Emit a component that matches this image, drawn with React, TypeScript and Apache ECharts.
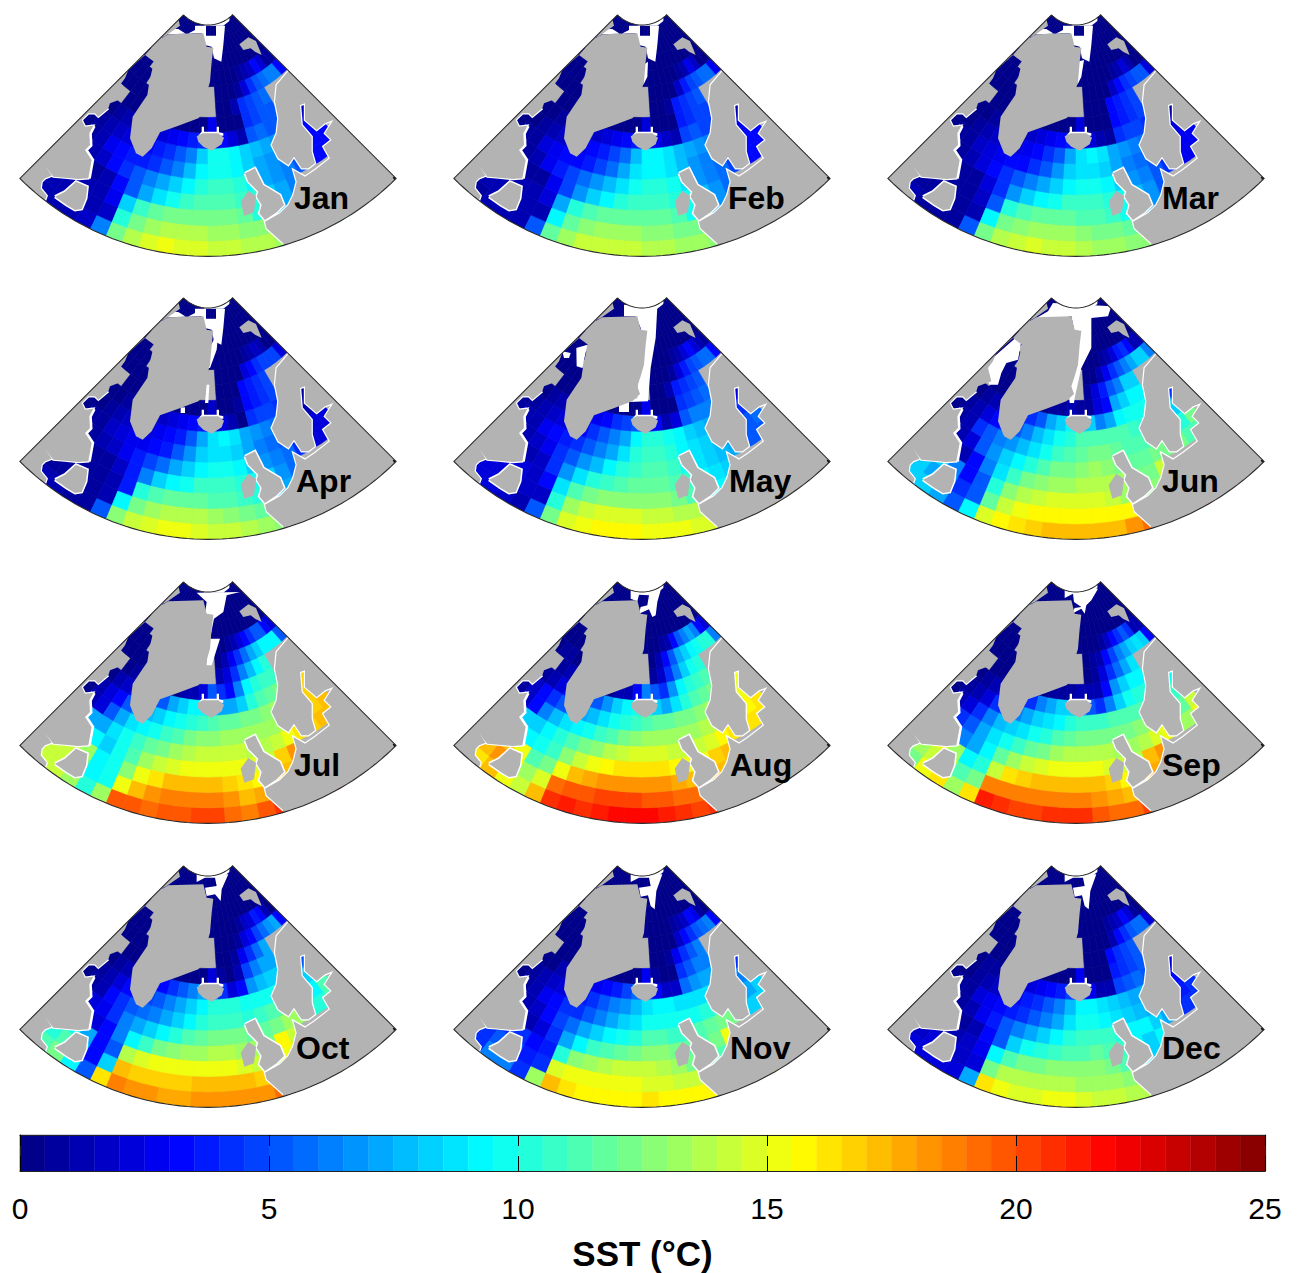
import React, { useEffect, useRef } from "react";
import * as echarts from "echarts";

const _ = null;
const MONTHS = ["Jan","Feb","Mar","Apr","May","Jun","Jul","Aug","Sep","Oct","Nov","Dec"];
const TICKS = [0,5,10,15,20,25];
const LEVELS = [0,.5,1,1.5,2,2.5,3,3.5,4,4.5,5,5.5,6,6.5,7,7.5,8,8.5,9,9.5,10,10.5,11,11.5,12,12.5,13,13.5,14,14.5,15,15.5,16,16.5,17,17.5,18,18.5,19,19.5,20,20.5,21,21.5,22,22.5,23,23.5,24,24.5];

// SST by ring (outermost first) and by angular sector (west to east). _ = inland.
const northRows = [
 [_,_,_,_,_,_,_,_,_,_,_,_,0,0,0,0,0,0,0,0,0,0,0,0],
 [0,0,0,0,0,0,0,0,0,0,0,0,0,0,0,0,0,0,0,0,0,0,0,0],
 [0,0,0,0,0,0,0,0,0,0,0,0,0,0,0,0,0,0,0,0,0,0,0,0],
];
const jan = [
 [_,1,1,1,1.5,6,12,13.5,14.5,15,14.5,14.5,14,14,13.5,13.5,13],
 [1,1,1,1,1,1.5,10,12,13,13.5,13.5,13.5,13,13,12.5,12.5,12],
 [1,1,1,1,1,2.5,8,10.5,11.5,12,12,12,12,12,11.5,10,8,7],
 [1,1,1,.5,1,3,5,7,8.5,9.5,10.5,11,11,11,10.5,10,8,7,6],
 [_,_,1,1.5,3,4,5,6,7,8,9,10,10.5,10.5,10,9,7,6.5,6,5,3,3,3],
 [0,.5,1,2.5,3,3.5,3.5,4,5,6,7.5,9,9.5,9.5,9,8,7,6.5,6,5,3,3,3],
 [0,.5,1,1.5,2,2,3,3.5,4,5,6,8,9.5,9.5,9,8,7.5,7,6.5,6,3,3,3],
 [_,0,.5,1,1,1,2,2,2.5,3,3.5,4,3,3,2,1,5,5.5,5,5,_,2,1.5],
 [_,_,0,0,0,0,0,0,0,0,0,0,2.5,0,0,0,4,4.5,5,5],
 [0,0,0,0,_,_,_,_,_,_,_,_,_,0,0,1,4,4.5,5,5.5],
 [0,0,0,_,_,_,_,_,_,_,_,_,_,0,0,0,.5,2,4,5,5.5,6,6,3],
 [0,0,_,_,_,_,_,_,_,_,_,_,0,0,0,0,0,.5,1,1.5,3,2,.5,.5],
];
const feb = [
 [_,.5,1,1,1,5,11.5,13,14,14,14,14,13.5,13.5,13,13,12.5],
 [1,1,1,1,1,1,9,11.5,12.5,13,13,13,12.5,12.5,12,12,11.5],
 [1,1,1,1,1,2,7,10,11,11.5,11.5,11.5,11.5,11.5,11,9.5,7.5,6.5],
 [.5,.5,.5,.5,.5,2.5,4.5,6.5,8,9,10,10.5,10.5,10.5,10,9.5,7.5,6.5,5.5],
 [_,_,.5,1,2.5,3.5,4.5,5.5,6.5,7.5,8.5,9.5,10,10,9.5,8.5,6.5,6,5.5,4.5,3,3,3],
 [0,.5,.5,2,2.5,3,3,3.5,4.5,5.5,7,8.5,9,9,8.5,7.5,6.5,6,5.5,4.5,3,3,3],
 [0,0,.5,1,1.5,2,2.5,3,3.5,4.5,5.5,7.5,9,9,8.5,7.5,7,6.5,6,5.5,2.5,2.5,2.5],
 [_,0,0,.5,1,1,1.5,1.5,2,2.5,3,3.5,3,2.5,1.5,1,4.5,5,4.5,4.5,_,1.5,1],
 [_,_,0,0,0,0,0,0,0,0,0,0,2,0,0,0,3.5,4,4.5,4.5],
 [0,0,0,0,_,_,_,_,_,_,_,_,_,0,0,.5,3.5,4,4.5,5],
 [0,0,0,_,_,_,_,_,_,_,_,_,_,0,0,0,0,1.5,3.5,4.5,5,5.5,5.5,2.5],
 [0,0,_,_,_,_,_,_,_,_,_,_,0,0,0,0,0,0,.5,1,2.5,1.5,0,0],
];
const mar = [
 [_,1,.5,.5,.5,5,12,13.5,14,14.5,14,14,13.5,13,13,12.5,12.5],
 [1,.5,.5,.5,.5,1,9,12,12.5,13,13,13,12.5,12,12,11.5,11],
 [.5,.5,.5,.5,.5,1.5,5,10,11,11.5,11.5,11.5,11,11,10.5,9.5,7.5,6.5],
 [.5,.5,.5,.5,.5,2,4,6.5,8,9,9.5,10.5,10.5,10.5,10,9.5,7.5,6.5,5],
 [_,_,.5,1,2,3,4,5,6,7,8,9,9.5,9.5,9,8,6.5,6,5,4,2.5,2.5,2.5],
 [0,.5,.5,1.5,2,2.5,3,3,4,5,6.5,8,8.5,8.5,8,7,6,5.5,5,4,2.5,2.5,2.5],
 [0,0,.5,1,1.5,1.5,2,2.5,3,4,5,7,8.5,9,8.5,7,6.5,6,5.5,5,2,2,2],
 [_,0,0,.5,.5,1,1,1.5,2,2.5,3,3.5,2.5,2,1,.5,4,4.5,4.5,4,_,1,.5],
 [_,_,0,0,0,0,0,0,0,0,0,0,2,0,0,0,3,3.5,4,4.5],
 [0,0,0,0,_,_,_,_,_,_,_,_,_,0,0,0,3,3.5,4,4.5],
 [0,0,0,_,_,_,_,_,_,_,_,_,_,0,0,0,0,1.5,3,4,4.5,5,5,2],
 [0,0,_,_,_,_,_,_,_,_,_,_,0,0,0,0,0,0,.5,1,2,1,0,0],
];
const apr = [
 [_,1,1,.5,.5,5,12.5,14,14.5,15,15,14.5,14,14,13.5,13,12.5],
 [.5,.5,.5,1,.5,1,9,12,13,13.5,13.5,13.5,13,12.5,12,11.5,11],
 [.5,.5,.5,.5,.5,1,3.5,10,11,11.5,11.5,11.5,11,11,10.5,10,8,7],
 [.5,.5,.5,.5,.5,1.5,3.5,6,8,9,9.5,10.5,10.5,10.5,10,9.5,8,6.5,5.5],
 [_,_,.5,1,1.5,2.5,3.5,4.5,5.5,7,8,9,9.5,9.5,9,8,6.5,6,5.5,4,2,2,2],
 [0,.5,.5,1.5,2,2.5,2.5,3,3.5,5,6.5,8,8.5,8.5,8,7,6,5.5,5,4,2,2,2],
 [0,0,.5,1,1.5,1.5,2,2.5,3,3.5,5,7,8.5,9,8.5,7,6.5,6,5.5,5,1.5,1,1],
 [_,0,0,.5,.5,1,1,1.5,2,2.5,3,3.5,2.5,2,1,0,4,4.5,4.5,4,_,1,.5],
 [_,_,0,0,0,0,0,0,0,0,0,0,1.5,0,0,.5,3,3.5,4,4.5],
 [0,0,0,0,_,_,_,_,_,_,_,_,_,0,0,0,3,3.5,4,4.5],
 [0,0,0,_,_,_,_,_,_,_,_,_,_,0,0,0,0,2,3,4,4.5,4.5,4.5,2],
 [0,0,_,_,_,_,_,_,_,_,_,_,0,0,0,0,0,0,.5,1,1.5,1,0,0],
];
const may = [
 [_,2,2,1.5,1,5,12,14.5,15,15.5,15.5,15.5,15,15,15,14.5,14.5],
 [2,2,2,2,1.5,1.5,10,13,14,14.5,14.5,14.5,14,14,13.5,13.5,13],
 [2.5,2.5,2,2,1.5,3,8.5,11,12,12.5,12.5,12.5,12.5,12.5,12,11,9,9],
 [2,2,2,1,1.5,4,6.5,8.5,10,10.5,11,11.5,11.5,11.5,11,10.5,9,8.5,8],
 [_,_,1,1.5,2.5,4,5,6.5,7.5,9,10,10.5,11,11,10.5,9.5,8.5,8,7.5,7,5,5,5],
 [.5,1,1,2.5,3,3.5,4,5,6,7,8.5,10,10.5,10.5,10,9,8.5,8,7.5,6.5,5,5,5.5],
 [.5,.5,1,1.5,2,2,3,4,5,6,7,9,10,10,9.5,9,8,7.5,7,6.5,4.5,4,4.5],
 [_,0,.5,1,1,1.5,2,2.5,3,4,4.5,5,3,3,1,2,5,6,6,6,_,3,2],
 [_,_,0,0,0,0,0,0,0,0,0,0,2.5,0,0,0,4,4.5,5,5.5],
 [0,0,0,0,_,_,_,_,_,_,_,_,_,0,0,1,3.5,4,4.5,5],
 [0,0,0,_,_,_,_,_,_,_,_,_,_,0,0,0,.5,2,3.5,4.5,5,5.5,5.5,3],
 [0,0,_,_,_,_,_,_,_,_,_,_,0,0,0,0,0,.5,1,2,3,2,1,.5],
];
const jun = [
 [_,8,8,7,5,9,14.5,15.5,16,16.5,17,17,17,17,17,18,19],
 [8,8,7,7,4,5,11.5,14,15,15.5,15.5,15.5,15.5,15.5,15.5,15.5,16],
 [8,8,8,6,3,5,10,12.5,13.5,14,14.5,14.5,14.5,14.5,14,13,12,12.5],
 [8,8,8,1,3,6,8.5,10.5,12,12.5,13,13,13.5,13.5,13.5,13,12,12,14],
 [_,_,1,2,5,6.5,8,9,10,11,12,12,12.5,13,12.5,12,11.5,11.5,12,12,12,11,11],
 [0,.5,1,4,5,6,6.5,7.5,8.5,9.5,10.5,11,11.5,12,12,11.5,11,11,11,11,10,10,12],
 [0,.5,1,2,3,4,5,6,7.5,8.5,9.5,10,11,11,11,11,11,10.5,10,10,8,8,9],
 [_,0,.5,1,1.5,2,3,4,5,7,8,9,8,8,6,7,9,9.5,9.5,9.5,_,7,4],
 [_,_,0,0,0,0,0,0,0,.5,.5,1,.5,.5,2,3,7,8,9,9],
 [0,0,0,0,_,_,_,_,_,_,_,_,_,.5,2,3.5,5,6,8,8],
 [0,0,0,_,_,_,_,_,_,_,_,_,_,0,0,1,2.5,4,5,6,7,8,8,6],
 [0,0,_,_,_,_,_,_,_,_,_,_,0,0,0,0,.5,1,2,3.5,4,3,1,1],
];
const jul = [
 [_,14,14,13,10,13,19.5,19.5,19,19.5,19.5,20,20,19,18.5,19.5,20.5],
 [14,14,14,12,9,9.5,15,17,18,18.5,18.5,18.5,18.5,18,17,17.5,18],
 [14,16,14,13,9,9.5,12.5,15,16,17,17,17,17,16.5,16,15.5,16,17],
 [14,14,14,9,8,9.5,11,13,14,14.5,15,15,15,15,15,14.5,14,16.5,18],
 [_,_,7,7,8.5,9.5,10.5,11.5,12,13,13.5,14,14,14,14,13.5,13.5,14,15,16,16.5,17,17],
 [0,1,2,5,7,8.5,9,9.5,10.5,11,12,12.5,12.5,13,13,13,13,13,13.5,15,16.5,16.5,17],
 [0,1,2,3,5,6,7.5,8,9,9.5,10,10.5,11,11.5,11.5,12,12,12.5,13,15,16,16.5,17],
 [_,0,1,1.5,2.5,3,4,5,7,8,9,9,8,7,7,8,10,11,11.5,12,_,16.5,16.5],
 [_,_,0,.5,0,0,0,0,0,1,1,2,5,4,3,6,9,10,10.5,10.5],
 [0,0,0,0,_,_,_,_,_,_,_,_,_,1,2,4,6,7.5,9,10],
 [0,0,0,_,_,_,_,_,_,_,_,_,_,0,1,2.5,4,5.5,7,8,9,9,9,5],
 [0,0,_,_,_,_,_,_,_,_,_,_,0,0,0,.5,1,2,3,4,5,5,3,2],
];
const aug = [
 [_,16,17,15,14,17,20.5,21,20.5,21,21.5,21.5,21.5,21,20.5,20,20.5],
 [16,17,18,15,13,14.5,19,19.5,19.5,20,20,20,19.5,19.5,19,19,19.5],
 [15,17,17,15,11,12,15,17,17.5,18,18,18,18,18,17.5,17,17,17],
 [15,15,15,9,9.5,10.5,12.5,14,15,15.5,16,16,16,16,15.5,15,15,16.5,17],
 [_,_,8,8,9,10,11,12,12.5,13.5,14,14.5,14.5,14.5,14,14,14,14.5,15.5,16,16,16,16],
 [.5,1.5,3,6,7.5,8.5,9,9.5,10.5,11,12,12.5,13,13,13,13,13,13.5,14,16,16,15.5,16],
 [.5,1.5,3,4,5,6,7,7.5,8.5,9.5,10,10.5,11,11.5,11.5,12,12,12.5,13,15,15,15,15],
 [_,.5,1,2,3,3,4,5,6.5,8,9,9.5,9,8,7,8.5,10,11,11.5,12,_,14.5,15],
 [_,_,.5,1,0,0,0,0,0,1,1,3,6,5,4,6.5,9,10,10.5,11],
 [0,.5,.5,0,_,_,_,_,_,_,_,_,_,.5,1.5,4,6,8,9.5,10],
 [0,0,0,_,_,_,_,_,_,_,_,_,_,0,1,3,5,7,8,9,9.5,10,10,6],
 [0,0,_,_,_,_,_,_,_,_,_,_,0,0,0,.5,1,3,5,6,7,6,3,2],
];
const sep = [
 [_,12,15,16,13,16,21,20.5,20,20,20.5,20.5,20.5,19.5,19,19,20],
 [12,13,14,14,11,12,18.5,18.5,18.5,18.5,18.5,18.5,18.5,18,17.5,17,17.5],
 [13,16,15,13,9,10,14,16,16.5,17,17,17,17,17,16.5,15.5,15.5,17.5],
 [13,13,13,6,7,9,11.5,13,14,14.5,15,15,15,15,14.5,14,13.5,17,18],
 [_,_,4,5,7,8.5,9.5,10.5,11.5,12,13,13.5,13.5,13.5,13.5,13,13,13.5,14.5,15,13,13,15],
 [0,1,2,4,6,7.5,8,8.5,9.5,10,11,11.5,12,12,12,12,12,12.5,13,14,12,11.5,14],
 [0,.5,1,2,4,5,6,7,8,8.5,9,10,10.5,10.5,10.5,11,11,11,11,12,10,10.5,13],
 [_,0,.5,1,2,2.5,3,4,6,7,8,8,7,5,4,6,8,9.5,10,10,_,10,9],
 [_,_,0,0,0,0,0,0,0,.5,.5,.5,1,1,1,3,6.5,8,9,9],
 [0,0,0,0,_,_,_,_,_,_,_,_,_,0,.5,2,4,5.5,7,8.5],
 [0,0,0,_,_,_,_,_,_,_,_,_,_,0,.5,1,3,4.5,6,7,8,8.5,8,3],
 [0,0,_,_,_,_,_,_,_,_,_,_,0,0,0,0,.5,1.5,3,4,5,4,1,1],
];
const oct = [
 [_,11,12,9,5,16,18.5,18,18,17.5,17.5,18,18,18,18,18,19],
 [10,10,11,8,3,8,17,16.5,16.5,16.5,16.5,17,17,17,17,16.5,16.5],
 [7,8,9,7,3,5,13.5,14.5,15,15,15,15,15,15,14.5,14,13,15],
 [6,7,7,2,3,6,9,10.5,12,12.5,13,13,13.5,13.5,13,13,12,15.5,14],
 [_,_,2,2.5,4,6,7,8,9,10,11,11.5,12,12,12,11.5,11.5,12,13,13,10,10,11],
 [0,.5,1,3,4,5,5.5,6,7,8,9,10,10.5,10.5,10.5,10,10.5,11,11.5,12,9,9,11],
 [0,.5,1,2,3,3.5,4.5,5,6,7,8,9,10,10,10,9.5,9.5,9.5,9.5,10,7.5,8,10],
 [_,0,.5,1,1.5,2,2.5,3,4,5,6,7,6,4,2,3,6.5,7.5,8,8,_,6,5],
 [_,_,0,0,0,0,0,0,0,0,0,0,2,.5,0,1,4.5,6,7,7],
 [0,0,0,0,_,_,_,_,_,_,_,_,_,0,0,.5,2.5,4,5.5,7],
 [0,0,0,_,_,_,_,_,_,_,_,_,_,0,0,0,.5,2,3,4.5,5.5,6.5,7,3],
 [0,0,_,_,_,_,_,_,_,_,_,_,0,0,0,0,0,.5,1.5,2,3.5,3,1,0],
];
const nov = [
 [_,4,6,6,4,13,17,16,15.5,15.5,15.5,15.5,16,15.5,15.5,15.5,15.5],
 [4,4,5,5,3.5,4,14.5,15,15,15,15,15,14.5,14.5,14,14,14],
 [3,4,4,4,3,3.5,10,12.5,13,13.5,14,14,14,13.5,13,12,11,11],
 [4,4,4,1,2,4,7,9,10.5,11,11.5,12,12.5,12.5,12,11.5,11,12,15],
 [_,_,1,1.5,3,4.5,5.5,7,8,9,9.5,10,11,11,10.5,10.5,11,11.5,12,12,8,8,8],
 [0,.5,1,2.5,3,4,4,5,6,7,8,8.5,9.5,9.5,9.5,9.5,9.5,10,10.5,10,6.5,7,8],
 [0,.5,1,1.5,2,3,3.5,4,5,6,6.5,7.5,8.5,9,9,8.5,8.5,8.5,8.5,9,6,6,7],
 [_,0,0,1,1,1.5,2,2.5,3,3.5,4.5,5.5,4.5,3,1.5,1.5,5.5,6.5,7,7,_,4,4],
 [_,_,0,0,0,0,0,0,0,0,0,0,2.5,.5,0,0,4,5,6,6],
 [0,0,0,0,_,_,_,_,_,_,_,_,_,0,0,.5,2.5,4,5,6],
 [0,0,0,_,_,_,_,_,_,_,_,_,_,0,0,0,0,1.5,3,4,5,5.5,6,3],
 [0,0,_,_,_,_,_,_,_,_,_,_,0,0,0,0,0,.5,1,1.5,3,2.5,.5,0],
];
const dec = [
 [_,2,2,2,2,7,16,15,14.5,14.5,15,15,14.5,14,14,13.5,13.5],
 [2,1.5,2,2,1.5,2,12,13.5,13.5,13.5,13.5,13.5,13,13,13,12.5,12.5],
 [1,1,1,1,1.5,2.5,9,11,12,12,12.5,12.5,12.5,12.5,12,11,9,8],
 [1,1,1,.5,1,3,5,8,9.5,10,10.5,11,11,11.5,11,10.5,9,8,9],
 [_,_,.5,1,2.5,3.5,5,6,7,8,9,10,10.5,10.5,10.5,10,9,9,8,7,4,4,4],
 [0,.5,.5,2,2.5,3,3.5,4,5,6,7,8.5,9.5,9.5,9,8.5,8,7.5,7,6,3.5,3.5,4],
 [0,0,.5,1,1.5,2,3,3.5,4,5,6,7.5,9,9,8.5,8,7.5,7,7,6.5,3,3,3],
 [_,0,.5,.5,1,1,1.5,2,2.5,3,3.5,4.5,3.5,2.5,1,1,4.5,5,5.5,5,_,1.5,2],
 [_,_,0,0,0,0,0,0,0,0,0,0,2.5,0,0,0,3.5,4,4.5,5],
 [0,0,0,0,_,_,_,_,_,_,_,_,_,0,0,0,3,4,4.5,5],
 [0,0,0,_,_,_,_,_,_,_,_,_,_,0,0,0,0,1,3,4,5,5.5,5.5,2],
 [0,0,_,_,_,_,_,_,_,_,_,_,0,0,0,0,0,.5,1,1.5,3,2,.5,0],
];
const SST = [jan,feb,mar,apr,may,jun,jul,aug,sep,oct,nov,dec];
const MED_SPOT = [12,_,_,12,17,21,24,24,22,18,15,12];

// Map geometry, in map units (3 units = 1 px of a panel)
type P = number[];
const GREENLAND: P[] = [[445,105],[475,88],[580,85],[590,125],[610,128],[605,170],[600,230],[590,265],[580,295],[588,318],[565,340],[505,362],[450,382],[425,430],[398,455],[378,445],[360,400],[368,335],[395,295],[412,270],[418,230],[432,170],[405,150]];
const ELLESMERE: P[] = [[522,24],[505,42],[510,62],[470,90],[440,105],[420,115]];
const ICELAND: P[] = [[560,394],[578,385],[625,385],[642,398],[635,418],[605,437],[580,425],[565,410]];
const SPITSBERGEN: P[] = [[688,118],[715,97],[738,108],[755,150],[735,140],[722,130],[700,135]];
const IRELAND: P[] = [[692,590],[715,558],[738,572],[732,622],[703,632]];
const CANADA_COAST: P[] = [[405,150],[355,195],[345,220],[330,240],[340,280],[300,295],[295,310],[265,335],[255,325],[235,325],[215,345],[225,365],[250,362],[238,385],[240,420],[225,435],[245,465],[235,520],[205,522],[165,518],[130,515],[118,500],[105,482],[125,512],[105,520],[95,530],[92,550],[110,572],[105,586]];
const LABRADOR_SHORE: P[] = [[250,362],[238,385],[240,420],[225,435],[245,465],[235,520]];
const CANADA_BACK: P[] = [[60,570],[20,530],[400,150]];
const QUEBEC: P[] = [[135,575],[165,560],[198,530],[232,545],[228,580],[215,612],[195,615],[170,600]];
const EUROPE_COAST: P[] = [[838,195],[800,240],[795,290],[805,340],[800,385],[785,420],[805,460],[835,480],[852,455],[875,490],[895,490],[915,475],[905,440],[905,395],[875,360],[870,300],[885,295],[885,345],[920,375],[945,355],[970,345],[945,385],[965,405],[940,425],[960,460],[915,495],[885,515],[850,495],[860,530],[850,570],[835,600],[810,625],[765,650],[770,670],[820,715]];
const EUROPE_BACK: P[] = [[830,780],[1200,640],[1200,520]];
const UK: P[] = [[705,505],[735,490],[760,540],[810,570],[822,600],[800,622],[765,645],[748,625],[755,600],[740,575],[745,560],[715,530]];
const ICELAND_FRAME: P[] = [[575,365],[582,365],[582,380],[620,380],[620,365],[627,365],[627,382],[640,385],[640,392],[565,392],[575,380]];
const TOP_STRIP: P[] = [[530,15],[660,15],[658,48],[640,62],[585,62],[560,50],[545,35]];
const SPOT: P[] = [[982,652],[1005,640],[1008,646],[985,658]];
const CORNER: P[] = [[1148,516],[1160,514],[1166,526],[1152,524]];
const WINTER_ICE: P[] = [[555,62],[588,62],[588,92],[618,92],[618,62],[645,62],[640,120],[634,170],[612,160],[605,125],[585,120],[575,85],[470,88],[458,100],[475,72],[505,72],[530,88],[555,75]];
const AUTUMN_ICE: P[] = [[560,55],[655,55],[635,100],[632,135],[615,115],[590,120],[585,95],[620,90],[615,65],[585,65],[560,78]];
const LATE_ICE: P[] = [[560,55],[655,55],[637,105],[632,160],[620,150],[612,118],[590,122],[585,95],[620,90],[615,65],[585,65],[560,78]];
const ICE: P[][][] = [
 [WINTER_ICE],
 [WINTER_ICE,[[598,180],[612,170],[610,215],[598,240]]],
 [WINTER_ICE,[[598,170],[618,165],[610,215],[598,240]]],
 [WINTER_ICE,[[598,180],[625,130],[620,185],[600,240],[590,240]],[[590,290],[598,290],[595,345],[585,345]],[[512,358],[525,358],[525,375],[512,375]]],
 [[[540,50],[640,55],[635,150],[620,240],[612,340],[555,342],[555,372],[525,372],[525,350],[580,330],[590,120],[575,85],[540,85]],[[397,180],[430,170],[415,240],[398,235]],[[355,190],[380,195],[375,210],[360,210]]],
 [[[525,45],[700,55],[690,85],[640,90],[640,180],[610,240],[590,330],[588,345],[575,345],[570,265],[600,180],[580,85],[440,110],[510,70]],[[310,245],[355,200],[415,148],[430,160],[420,215],[385,225],[370,255],[360,290],[335,290],[320,260]]],
 [[[560,62],[690,60],[650,70],[640,120],[612,140],[600,200],[630,200],[605,280],[590,280],[598,150],[585,125],[590,90]]],
 [[[560,55],[650,55],[640,90],[635,130],[625,135],[615,112],[585,125],[590,105],[610,100],[615,70],[585,68],[580,88],[560,80]]],
 [[[560,55],[660,50],[640,85],[625,100],[620,125],[610,110],[582,125],[590,108],[610,105],[588,90],[585,65],[560,78]]],
 [AUTUMN_ICE],
 [LATE_ICE],
 [LATE_ICE],
];

const APEX_X = 594, APEX_Y = -44, R_IN = 104, R_OUT = 798, N_COL = 24, N_RING = 15;
const PANEL_LEFT = [10,444,878], PANEL_TOP = [5,288,572,856];
const LABEL_X = [294,728,1162,296,729,1162,294,730,1162,296,730,1162];
const LABEL_Y = [198,481,765,1048];
const LAND = "#b3b3b3";

function jet(v: number) {
  const i = Math.min(49, Math.max(0, Math.floor(v / 0.5)));
  const t = (i + 0.5) / 50;
  const c = (x: number) => Math.round(255 * Math.max(0, Math.min(1, x)));
  return `rgb(${c(Math.min(4*t-1.5,-4*t+4.5))},${c(Math.min(4*t-0.5,-4*t+3.5))},${c(Math.min(4*t+0.5,-4*t+2.5))})`;
}
const polar = (r: number, deg: number): P => [APEX_X + r*Math.sin(deg*Math.PI/180), APEX_Y + r*Math.cos(deg*Math.PI/180)];
function sectorOutline(): P[] {
  const pts: P[] = [];
  for (let a = -45; a <= 45; a += 3) pts.push(polar(R_IN, a));
  for (let a = 45; a >= -45; a -= 1.5) pts.push(polar(R_OUT, a));
  pts.push(polar(R_IN, -45));
  return pts;
}
const SECTOR = sectorOutline();
const MASK: P[] = [[-6,-25],[1206,-25],[1206,805],[-6,805],[-6,-25],...SECTOR.slice().reverse(),[-6,-25]];

export default function App() {
  const ref = useRef<HTMLDivElement>(null);
  useEffect(() => {
    const chart = echarts.init(ref.current!, undefined, { renderer: "svg" });
    const grid: any[] = [], xAxis: any[] = [], yAxis: any[] = [], series: any[] = [], graphic: any[] = [];
    MONTHS.forEach((m, p) => {
      const left = PANEL_LEFT[p % 3], top = PANEL_TOP[Math.floor(p / 3)];
      grid.push({ left, top, width: 400, height: 260 });
      xAxis.push({ type: "value", gridIndex: p, min: 0, max: 1200, show: false });
      yAxis.push({ type: "value", gridIndex: p, min: 0, max: 780, inverse: true, show: false });
      const pts = (api: any, list: P[]) => list.map((q) => api.coord(q));
      const common = { type: "custom", coordinateSystem: "cartesian2d", xAxisIndex: p, yAxisIndex: p, silent: true, clip: false, animation: false };
      series.push({ ...common, name: m + " land base", data: [[0, 0]],
        renderItem: (_p: any, api: any) => ({ type: "polygon", shape: { points: pts(api, SECTOR) }, style: { fill: LAND } }) });
      const rows = [...SST[p], ...northRows];
      const cells: number[][] = [];
      rows.forEach((row: any[], k: number) => row.forEach((v, c) => { if (v !== null && v !== undefined) cells.push([c, k, v]); }));
      series.push({ ...common, name: m, data: cells,
        renderItem: (_p: any, api: any) => {
          const c = api.value(0), k = api.value(1), v = api.value(2);
          const dr = (R_OUT - R_IN) / N_RING, da = 90 / N_COL;
          const r1 = R_OUT - k * dr, r0 = r1 - dr, a0 = -45 + c * da, a1 = a0 + da;
          const fill = jet(v);
          return { type: "polygon", shape: { points: pts(api, [polar(r1,a0),polar(r1,a1),polar(r0,a1),polar(r0,a0)]) }, style: { fill, stroke: fill, lineWidth: 0.6 } };
        } });
      series.push({ ...common, name: m + " map", data: [[0, 0]],
        renderItem: (_p: any, api: any) => {
          const poly = (list: P[], fill: string) => ({ type: "polygon", shape: { points: pts(api, list) }, style: { fill } });
          const line = (list: P[], w: number) => ({ type: "polyline", shape: { points: pts(api, list) }, style: { stroke: "#fff", lineWidth: w, fill: "none" } });
          const children: any[] = [
            poly(TOP_STRIP, "#fff"),
            ...ICE[p].map((l) => poly(l, "#fff")),
            poly(ICELAND_FRAME, "#fff"),
            line(LABRADOR_SHORE, 5), line(CANADA_COAST.slice(6), 2.4), line(QUEBEC.concat([QUEBEC[0]]), 3), line(EUROPE_COAST, 2.4), line(UK.concat([UK[0]]), 3),
            poly(GREENLAND, LAND), poly(ELLESMERE, LAND), poly(ICELAND, LAND), poly(SPITSBERGEN, LAND), poly(IRELAND, LAND),
            poly([...CANADA_COAST, ...CANADA_BACK], LAND), poly(QUEBEC, LAND), poly([...EUROPE_COAST, ...EUROPE_BACK], LAND), poly(UK, LAND),
          ];
          if (MED_SPOT[p] !== null) children.push(poly(SPOT, jet(MED_SPOT[p] as number)));
          children.push(poly(CORNER, "#111"));
          children.push(poly(MASK, "#fff"));
          children.push({ type: "polyline", shape: { points: pts(api, SECTOR) }, style: { stroke: "#2a2a2a", lineWidth: 1.1, fill: "none" } });
          return { type: "group", children };
        } });
      graphic.push({ type: "text", z: 100, x: LABEL_X[p], y: LABEL_Y[Math.floor(p / 3)],
        style: { text: m, fontFamily: "Liberation Sans", fontWeight: "bold", fontSize: 32, fill: "#000", textVerticalAlign: "middle", textAlign: "left" } });
    });
    const g = MONTHS.length;
    grid.push({ left: 20, top: 1135, width: 1245, height: 36 });
    const labelFont = { fontFamily: "Liberation Sans", fontSize: 30, color: "#000" };
    const lineDark = { show: true, onZero: false, lineStyle: { color: "#222", width: 1.2 } };
    xAxis.push({ type: "value", gridIndex: g, min: 0, max: 25, interval: 5, position: "bottom", z: 10,
      axisLine: lineDark, axisTick: { show: true, inside: true, length: 15, lineStyle: { color: "#000", width: 1 } }, splitLine: { show: false },
      axisLabel: { ...labelFont, margin: 22, showMinLabel: true, showMaxLabel: true, customValues: TICKS },
      name: "SST (°C)", nameLocation: "middle", nameGap: 65, nameTextStyle: { fontFamily: "Liberation Sans", fontWeight: "bold", fontSize: 35, color: "#000" } });
    xAxis.push({ type: "value", gridIndex: g, min: 0, max: 25, interval: 5, position: "top", z: 10,
      axisLine: lineDark, axisTick: { show: true, inside: true, length: 11, lineStyle: { color: "#000", width: 1 } }, axisLabel: { show: false }, splitLine: { show: false } });
    yAxis.push({ type: "value", gridIndex: g, min: 0, max: 1, position: "left", z: 10, axisLine: lineDark, axisTick: { show: false }, axisLabel: { show: false }, splitLine: { show: false } });
    yAxis.push({ type: "value", gridIndex: g, min: 0, max: 1, position: "right", z: 10, axisLine: lineDark, axisTick: { show: false }, axisLabel: { show: false }, splitLine: { show: false } });
    series.push({ type: "custom", name: "SST scale", coordinateSystem: "cartesian2d", xAxisIndex: g, yAxisIndex: g, silent: true, data: LEVELS.map((v) => [v, 0]),
      renderItem: (_p: any, api: any) => {
        const v = api.value(0);
        const a = api.coord([v, 1]), b = api.coord([v + 0.5, 0]);
        const fill = jet(v);
        return { type: "rect", shape: { x: a[0], y: a[1], width: b[0] - a[0], height: b[1] - a[1] }, style: { fill, stroke: fill, lineWidth: 0.4 } };
      } });
    chart.setOption({ animation: false, backgroundColor: "#fff", grid, xAxis, yAxis, series, graphic });
    return () => chart.dispose();
  }, []);
  return <div ref={ref} style={{ position: "fixed", left: 0, top: 0, width: 1297, height: 1273 }} />;
}
